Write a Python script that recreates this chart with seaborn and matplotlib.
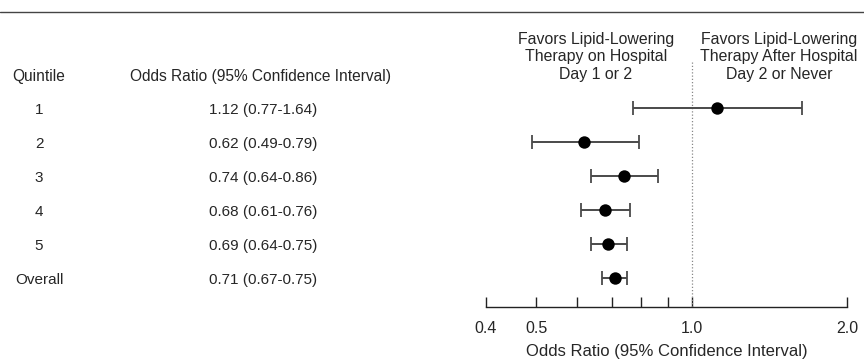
import numpy as np
import pandas as pd
import matplotlib
matplotlib.use("Agg")
import matplotlib.pyplot as plt
import seaborn as sns
from matplotlib.transforms import blended_transform_factory
from matplotlib.ticker import FixedLocator, NullFormatter, FixedFormatter
from matplotlib.lines import Line2D

# ---- data ----
quintiles = ["1", "2", "3", "4", "5", "Overall"]
odds_ratio = [1.12, 0.62, 0.74, 0.68, 0.69, 0.71]
ci_low = [0.77, 0.49, 0.64, 0.61, 0.64, 0.67]
ci_high = [1.64, 0.79, 0.86, 0.76, 0.75, 0.75]
major_ticks = [0.4, 0.5, 1.0, 2.0]
major_labels = ["0.4", "0.5", "1.0", "2.0"]
minor_ticks = [0.6, 0.7, 0.8, 0.9]
left_header = "Favors Lipid-Lowering\nTherapy on Hospital\nDay 1 or 2"
right_header = "Favors Lipid-Lowering\nTherapy After Hospital\nDay 2 or Never"
col1_header = "Quintile"
col2_header = "Odds Ratio (95% Confidence Interval)"
x_label = "Odds Ratio (95% Confidence Interval)"

sns.set_theme(style="white")
plt.rcParams["font.family"] = ["Liberation Sans", "DejaVu Sans"]
TXT = "#262626"

df = pd.DataFrame({
    "quintile": quintiles,
    "or": odds_ratio,
    "lo": ci_low,
    "hi": ci_high,
})
df["row"] = np.arange(len(df))
df["label"] = [f"{o:.2f} ({l:.2f}-{h:.2f})" for o, l, h in zip(df["or"], df["lo"], df["hi"])]

W, H = 864, 360
fig = plt.figure(figsize=(W / 100, H / 100), dpi=100)
ax = fig.add_axes([486 / W, 1 - 307 / H, (847 - 486) / W, (307 - 62) / H])
ax.set_xscale("log")

ax.errorbar(df["or"], df["row"],
            xerr=[df["or"] - df["lo"], df["hi"] - df["or"]],
            fmt="none", ecolor="#4a4a4a", elinewidth=1.4,
            capsize=5.0, capthick=1.3, zorder=2)
sns.scatterplot(data=df, x="or", y="row", ax=ax, color="black", s=80,
                edgecolor="black", linewidth=0, zorder=3, legend=False)

ax.axvline(1.0, color="#888888", ls=(0, (1, 1.6)), lw=0.9, zorder=1)

ax.set_xlim(0.4, 2.0)
ax.set_ylim(5.853, -1.353)
ax.set_yticks([])
ax.set_ylabel("")
for s in ["top", "left", "right"]:
    ax.spines[s].set_visible(False)
ax.spines["bottom"].set_color("#222222")
ax.spines["bottom"].set_linewidth(1.0)

ax.xaxis.set_major_locator(FixedLocator(major_ticks))
ax.xaxis.set_major_formatter(FixedFormatter(major_labels))
ax.xaxis.set_minor_locator(FixedLocator(minor_ticks))
ax.xaxis.set_minor_formatter(NullFormatter())
ax.tick_params(axis="x", which="both", bottom=True, direction="in",
               length=7, width=1.0, color="#222222")
ax.tick_params(axis="x", which="major", labelsize=11.5, labelcolor=TXT, pad=10)

ax.set_xlabel(x_label, fontsize=12, color=TXT)
ax.xaxis.set_label_coords(0.5, -0.15)

# left table
trans = blended_transform_factory(fig.transFigure, ax.transData)
for _, r in df.iterrows():
    ax.text(39 / W, r["row"] + 0.07, r["quintile"], transform=trans,
            ha="center", va="center", fontsize=11, color=TXT, clip_on=False)
    ax.text(263 / W, r["row"] + 0.07, r["label"], transform=trans,
            ha="center", va="center", fontsize=11, color=TXT, clip_on=False)

fig.text(12 / W, 1 - 77 / H, col1_header, ha="left", va="center",
         fontsize=11.2, color=TXT)
fig.text(130 / W, 1 - 77 / H, col2_header, ha="left", va="center",
         fontsize=11.2, color=TXT)

fig.text(596 / W, 1 - 57 / H, left_header, ha="center", va="center",
         fontsize=11.4, color=TXT, linespacing=1.18)
fig.text(779 / W, 1 - 57 / H, right_header, ha="center", va="center",
         fontsize=11.4, color=TXT, linespacing=1.18)

fig.add_artist(Line2D([0, 1], [1 - 12 / H] * 2, transform=fig.transFigure,
                      color="#444444", lw=1.0))

fig.savefig("out.png", dpi=100)
